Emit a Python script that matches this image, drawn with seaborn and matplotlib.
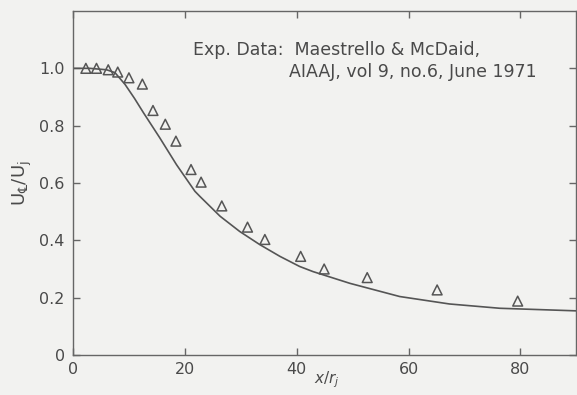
import matplotlib
matplotlib.use("Agg")
import matplotlib.pyplot as plt
import seaborn as sns
import pandas as pd

# Experimental data (triangles)
exp_x = [2.3, 4.2, 6.3, 8.0, 10.0, 12.4, 14.3, 16.5, 18.4, 21.1, 22.9, 26.6,
         31.2, 34.3, 40.7, 44.9, 52.6, 65.1, 79.5]
exp_y = [1.0, 1.0, 0.995, 0.987, 0.967, 0.945, 0.853, 0.805, 0.746, 0.647, 0.603,
         0.520, 0.446, 0.403, 0.344, 0.300, 0.270, 0.227, 0.188]

# Prediction curve
curve_x = [0, 3, 6, 7.5, 9.3, 11.0, 12.6, 15.5, 18.5, 21.8, 22.7, 26.3, 29.8,
           33.4, 37.0, 40.5, 42.9, 49.5, 58.4, 67.3, 76.3, 90.0]
curve_y = [1.0, 1.0, 0.995, 0.985, 0.944, 0.895, 0.845, 0.758, 0.664, 0.571, 0.553,
           0.484, 0.431, 0.385, 0.344, 0.309, 0.291, 0.250, 0.204, 0.178, 0.163, 0.154]

x_ticks = [0, 20, 40, 60, 80]
x_ticklabels = ["0", "20", "40", "60", "80"]
y_ticks = [0, 0.2, 0.4, 0.6, 0.8, 1.0]
y_ticklabels = ["0", "0.2", "0.4", "0.6", "0.8", "1.0"]

sns.set_style("white")
plt.rcParams["font.family"] = ["DejaVu Sans"]
plt.rcParams["mathtext.fontset"] = "dejavusans"

ink = "#4a4a4a"
bg = "#f2f2f0"

fig = plt.figure(figsize=(5.77, 3.95), dpi=100, facecolor=bg)
ax = fig.add_axes([73 / 577, 1 - 355 / 395, 1 - 73 / 577 - 0.001, (355 - 11) / 395])
ax.set_facecolor(bg)

cdf = pd.DataFrame({"x": curve_x, "y": curve_y})
edf = pd.DataFrame({"x": exp_x, "y": exp_y})

sns.lineplot(data=cdf, x="x", y="y", ax=ax, color="#555555", linewidth=1.2,
             sort=False, estimator=None)
sns.scatterplot(data=edf, x="x", y="y", ax=ax, marker="^", s=50,
                facecolors="none", edgecolor="#555555", linewidth=1.1, zorder=3)

ax.set_xlim(0, 90)
ax.set_ylim(0, 1.2)
ax.set_xticks(x_ticks)
ax.set_xticklabels(x_ticklabels)
ax.set_yticks(y_ticks)
ax.set_yticklabels(y_ticklabels)
ax.tick_params(direction="in", length=5, width=1, color="#666666",
               labelcolor=ink, labelsize=11.5, top=True, right=True,
               bottom=True, left=True)
ax.tick_params(axis="y", pad=6)
ax.tick_params(axis="x", pad=5)
for s in ax.spines.values():
    s.set_visible(True)
    s.set_color("#666666")
    s.set_linewidth(1)

ax.set_xlabel("")
ax.set_ylabel("$\\mathrm{U}_{\u2104}/\\mathrm{U}_{\\mathrm{j}}$", color=ink,
              fontsize=13, labelpad=4)
fig.text(327 / 577, 1 - 380 / 395, r"$x/r_j$", color=ink, fontsize=11,
         ha="center", va="center")

ax.text(193 / 577, 1 - 50 / 395, "Exp. Data:  Maestrello & McDaid,",
        transform=fig.transFigure, color=ink, fontsize=12.5, va="center", ha="left")
ax.text(289 / 577, 1 - 72 / 395, "AIAAJ, vol 9, no.6, June 1971",
        transform=fig.transFigure, color=ink, fontsize=12.5, va="center", ha="left")

fig.savefig("out.png", dpi=100, facecolor=bg)
